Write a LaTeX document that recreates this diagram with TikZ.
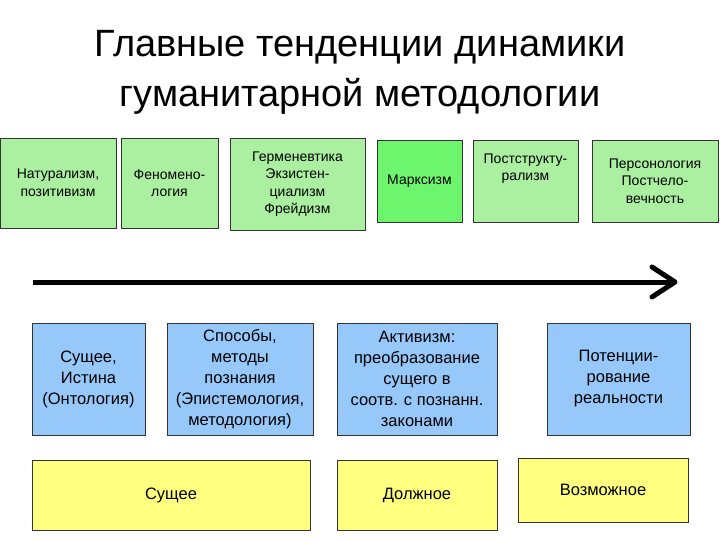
\documentclass[tikz,border=0pt]{standalone}
\usepackage{fontspec}
\setmainfont{Liberation Sans}
\definecolor{gr}{RGB}{170,240,160}
\definecolor{gr2}{RGB}{110,245,110}
\definecolor{bl}{RGB}{150,200,250}
\definecolor{ye}{RGB}{255,255,128}
\begin{document}
\begin{tikzpicture}[x=1pt,y=-1pt,
 bx/.style={draw=black!80,line width=0.8pt,align=center,font=\fontsize{14}{17.5}\selectfont,inner sep=0pt},
 bb/.style={bx,font=\fontsize{16.5}{21}\selectfont},
 tt/.style={font=\fontsize{38}{50}\selectfont,align=center}]
\useasboundingbox (0,0) rectangle (720,540);
\fill[white] (0,0) rectangle (720,540);
\node[tt] (title) at (360,72) {Главные тенденции динамики\\гуманитарной методологии};
\newcommand{\bxat}[7]{\node[#1,fill=#2,minimum width=#5-#3,minimum height=#6-#4] (#7) at ({(#3+#5)/2},{(#4+#6)/2})}
\bxat{bx}{gr}{0}{138}{116}{228}{g1} {Натурализм,\\позитивизм};
\bxat{bx}{gr}{121}{138}{218}{228}{g2} {Феномено-\\логия};
\bxat{bx}{gr}{230}{138}{365}{230}{g3} {Герменевтика\\Экзистен-\\циализм\\Фрейдизм};
\bxat{bx}{gr2}{377}{140}{462}{222}{g4} {Марксизм};
\bxat{bx}{gr}{473}{140}{578}{222}{g5} {Постструкту-\\рализм\\[10pt]};
\bxat{bx}{gr}{592}{140}{718}{222}{g6} {Персонология\\Постчело-\\вечность};
\coordinate (a1) at (33,282); \coordinate (a2) at (675,282);
\draw[line width=5pt] (a1) -- (a2);
\draw[line width=5pt,line cap=round,line join=round] (652,267) -- (675,282) -- (652,297);
\bxat{bb}{bl}{32}{323}{145}{435}{b1} {Сущее,\\Истина\\(Онтология)};
\bxat{bb}{bl}{167}{323}{313}{435}{b2} {Способы,\\методы\\познания\\(Эпистемология,\\методология)};
\bxat{bb}{bl}{337}{323}{497}{435}{b3} {Активизм:\\преобразование\\сущего в\\соотв. с познанн.\\законами};
\bxat{bb}{bl}{547}{323}{690}{435}{b4} {Потенции-\\рование\\реальности};
\bxat{bb}{ye}{32}{460}{310}{530}{y1} {Сущее};
\bxat{bb}{ye}{337}{460}{497}{530}{y2} {Должное};
\bxat{bb}{ye}{518}{458}{688}{522}{y3} {Возможное};
\end{tikzpicture}
\end{document}
